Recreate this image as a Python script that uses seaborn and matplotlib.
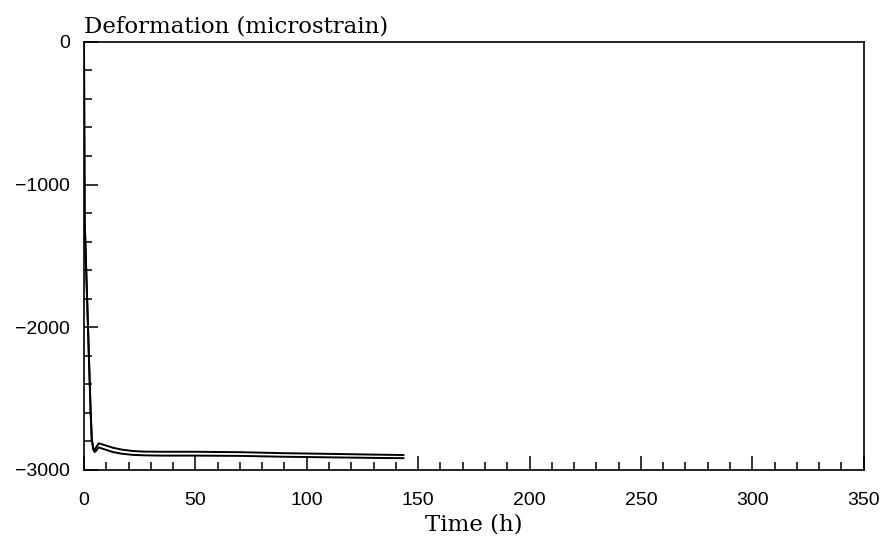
import matplotlib
matplotlib.use("Agg")
import matplotlib.pyplot as plt
import seaborn as sns
import pandas as pd
from matplotlib.ticker import MultipleLocator

time_h = [0, 0.3, 1.8, 3.0, 3.5, 4.2, 4.8, 5.5, 6.6, 8, 10, 13, 17, 22, 27, 35, 50, 70, 90, 115, 130, 143.5]
upper = [0, -1250, -2000, -2600, -2780, -2850, -2865, -2840, -2814, -2820, -2830, -2845, -2858, -2868,
         -2872, -2873, -2873, -2876, -2883, -2889, -2893, -2896]
lower = [0, -1250, -2000, -2600, -2790, -2860, -2875, -2865, -2842, -2850, -2860, -2875, -2887, -2895,
         -2898, -2900, -2900, -2902, -2908, -2913, -2916, -2918]

df = pd.concat([
    pd.DataFrame({"Time (h)": time_h, "Deformation": upper, "series": "A"}),
    pd.DataFrame({"Time (h)": time_h, "Deformation": lower, "series": "B"}),
])

sns.set_style("ticks")
plt.rcParams["font.family"] = ["Liberation Sans", "DejaVu Sans"]
plt.rcParams["text.color"] = "black"
plt.rcParams["axes.labelcolor"] = "black"

fig = plt.figure(figsize=(8.84, 5.37), dpi=100)
ax = fig.add_axes([0.095, 0.125, 0.882, 0.797])

sns.lineplot(data=df, x="Time (h)", y="Deformation", hue="series", units="series",
             estimator=None, palette=["black", "black"], linewidth=1.4, legend=False,
             sort=False, ax=ax)

ax.set_xlim(0, 350)
ax.set_ylim(-3000, 0)
ax.xaxis.set_major_locator(MultipleLocator(50))
ax.xaxis.set_minor_locator(MultipleLocator(10))
ax.yaxis.set_major_locator(MultipleLocator(1000))
ax.yaxis.set_minor_locator(MultipleLocator(200))
ax.tick_params(which="both", direction="in", top=False, right=False, colors="black",
               labelcolor="black", width=1.1)
ax.tick_params(which="major", length=10, labelsize=14)
ax.tick_params(axis="x", which="major", pad=16)
ax.tick_params(axis="y", which="major", pad=10)
ax.tick_params(which="minor", length=6)
for s in ax.spines.values():
    s.set_linewidth(1.2)
    s.set_color("black")

ax.set_xlabel("Time (h)", family=["DejaVu Serif"], fontsize=16.5, labelpad=3, color="black")
ax.set_ylabel("")
ax.text(0.0, 1.01, "Deformation (microstrain)", transform=ax.transAxes,
        family=["DejaVu Serif"], fontsize=16.5, ha="left", va="bottom", color="black")

fig.savefig("out.png", dpi=100)
